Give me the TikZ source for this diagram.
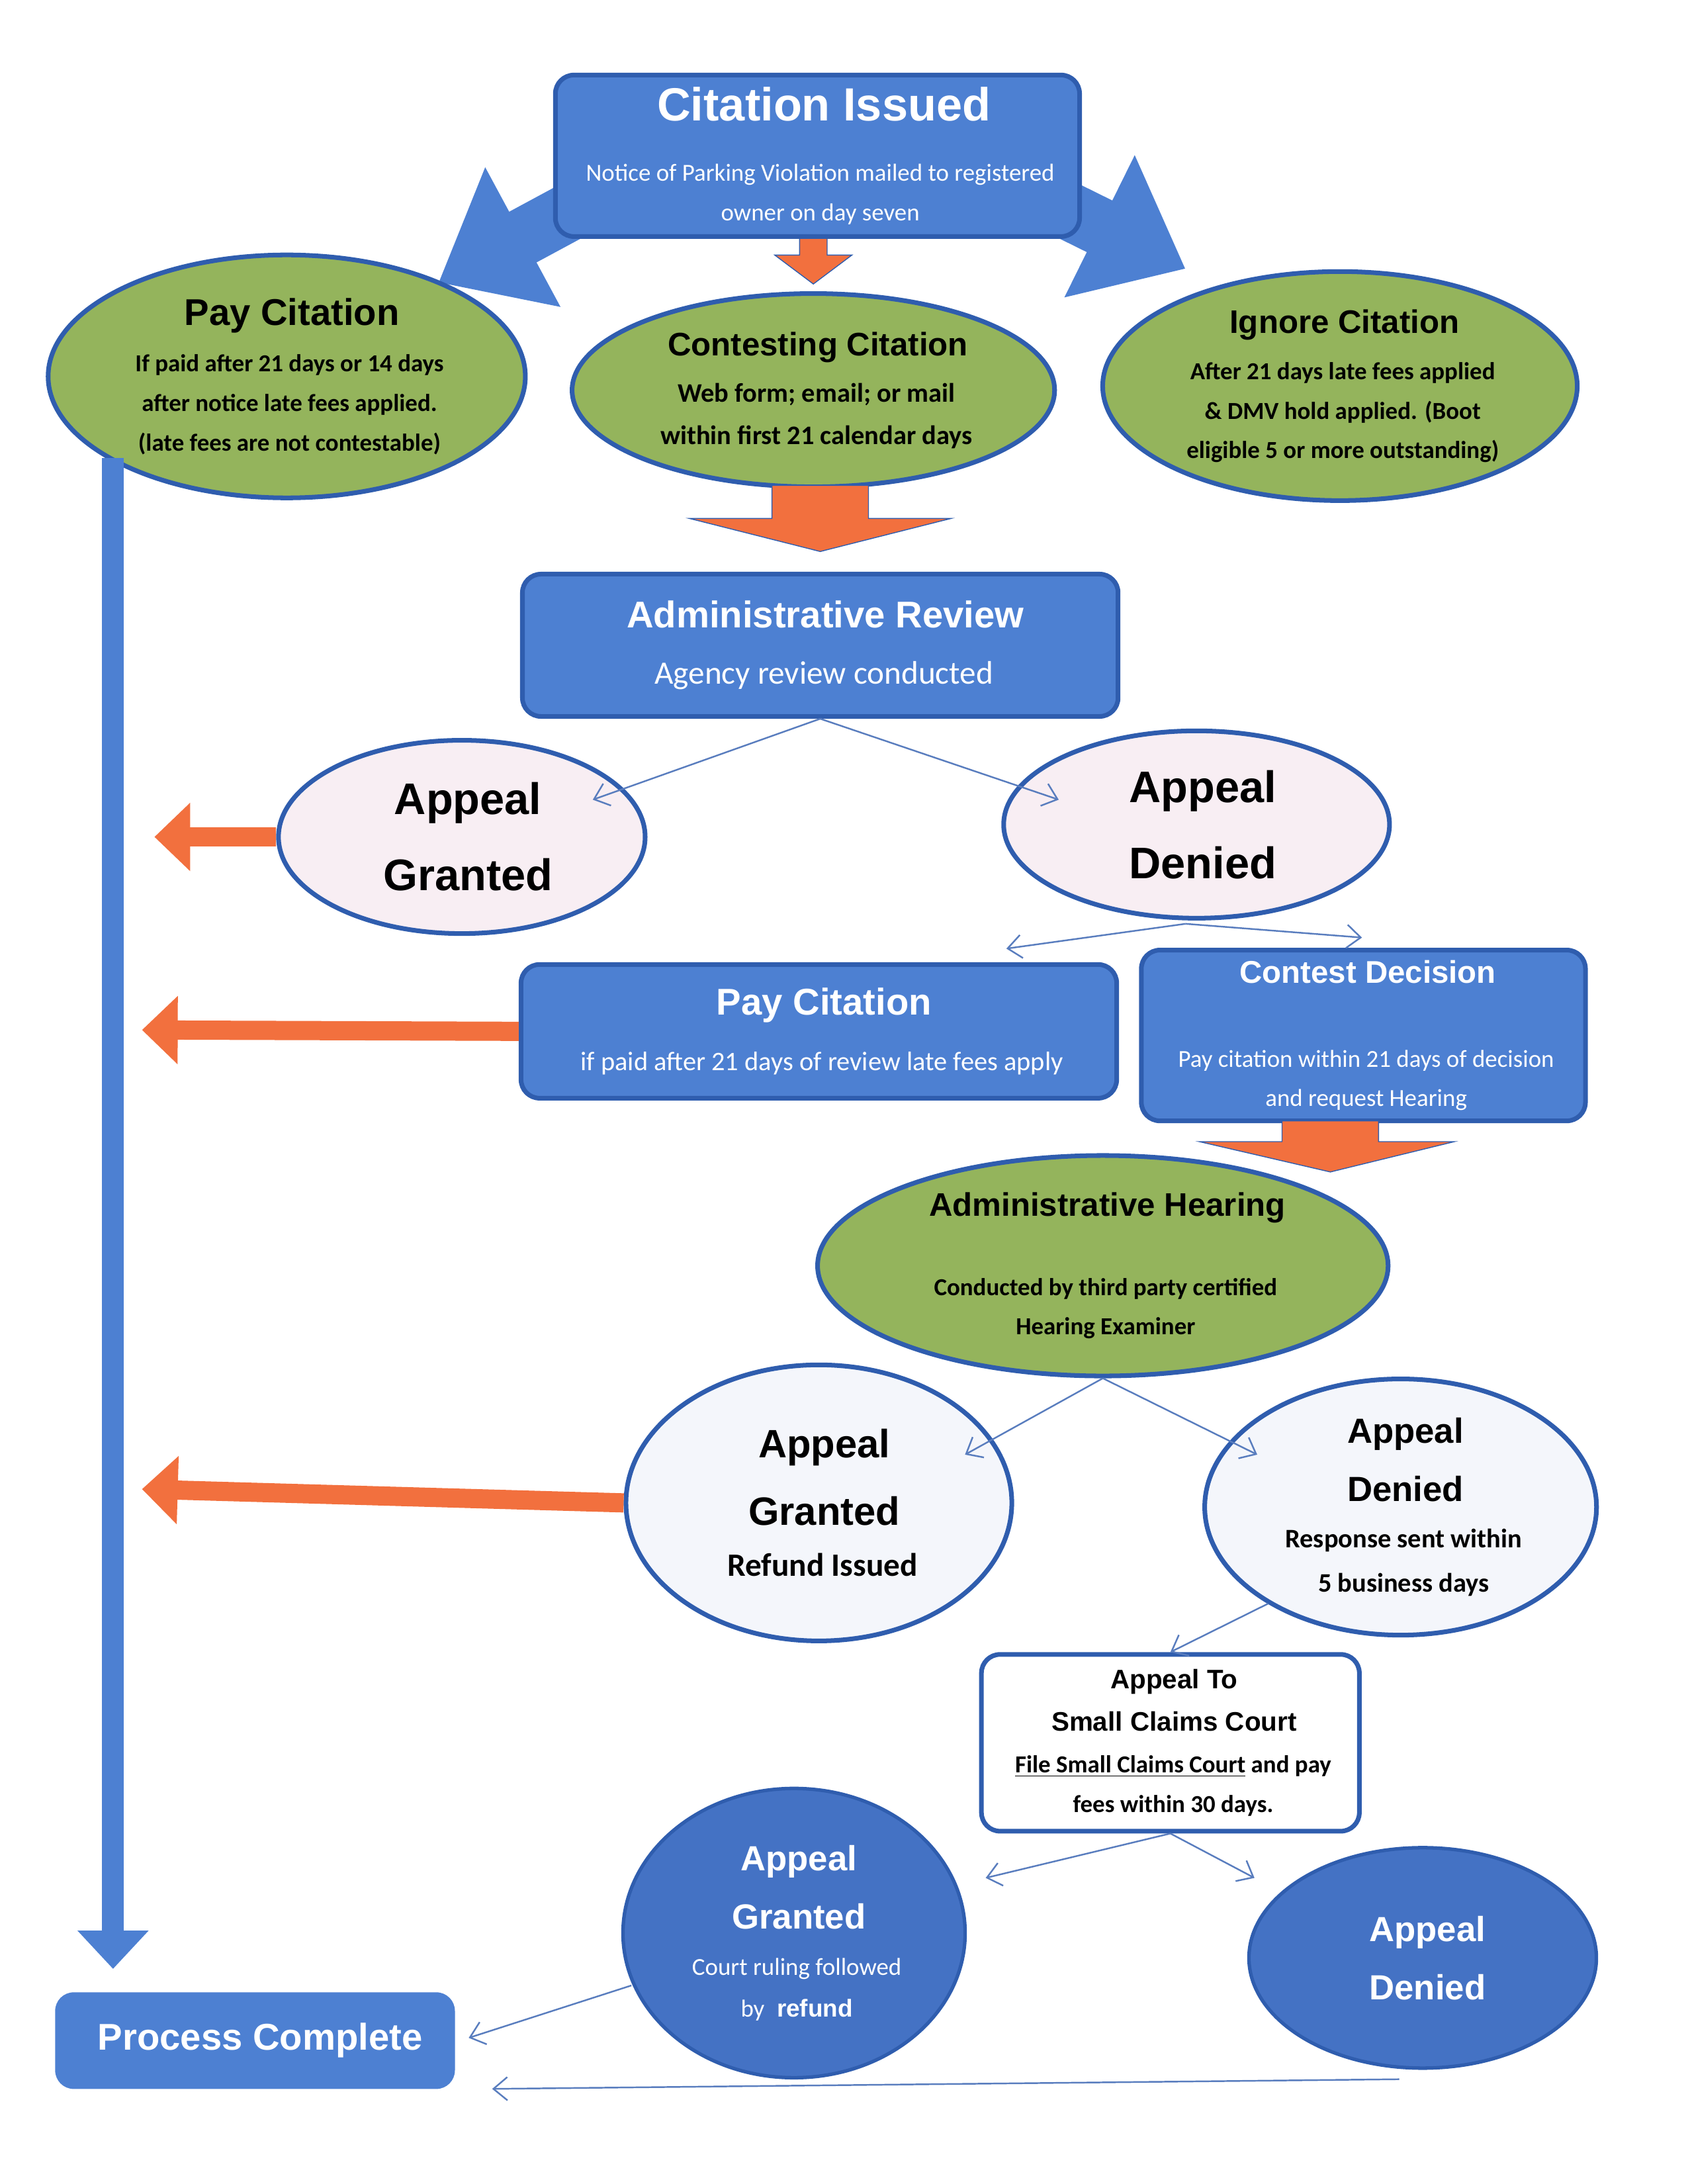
\documentclass[tikz,border=0pt]{standalone}
\usepackage{fontspec}
\setmainfont{Carlito}
\newfontfamily\headfont{Liberation Sans}
\usetikzlibrary{shapes.geometric,arrows.meta,positioning}
\definecolor{boxblue}{HTML}{4D80D2}
\definecolor{lineblue}{HTML}{2F5DAE}
\definecolor{ovgreen}{HTML}{94B45C}
\definecolor{arrorange}{HTML}{F2703E}
\definecolor{paleink}{HTML}{F8EEF3}
\definecolor{palewhite}{HTML}{F4F6FB}
\definecolor{courtblue}{HTML}{4472C4}
\newcommand\hfs[1]{\headfont\bfseries\fontsize{#1}{#1}\selectfont}
\newcommand\bfs[1]{\normalfont\bfseries\fontsize{#1}{#1}\selectfont}
\newcommand\nfs[1]{\normalfont\fontsize{#1}{#1}\selectfont}
\tikzset{
  bluebox/.style={rectangle,rounded corners=8pt,draw=lineblue,line width=2pt,fill=boxblue,text=white,align=center,inner sep=0pt},
  greenov/.style={ellipse,draw=lineblue,line width=2pt,fill=ovgreen,align=center,inner sep=0pt},
  paleov/.style={ellipse,draw=lineblue,line width=2pt,fill=paleink,align=center,inner sep=0pt},
  courtov/.style={ellipse,draw=lineblue,line width=1.5pt,fill=courtblue,text=white,align=center,inner sep=0pt},
  thin/.style={draw=lineblue!80,line width=0.7pt,-{Straight Barb[length=6pt,width=10pt]}},
  fatarrow/.style={draw=arrorange,line width=0.29cm,-{Triangle[length=0.54cm,width=1cm]}},
}
\begin{document}
\begin{tikzpicture}[x=0.02083cm,y=-0.02083cm]
\useasboundingbox (0,0) rectangle (1224,1584);
% big arrows out of the first box
\draw[boxblue,line width=0.87cm,-{Triangle[length=1.45cm,width=2.3cm]}] (420,150) -- (318,205);
\draw[boxblue,line width=0.87cm,-{Triangle[length=1.45cm,width=2.3cm]}] (765,148) -- (860,195);
\fill[arrorange,draw=lineblue] (580,172) -- (600,172) -- (600,185) -- (618,185) -- (590,206) -- (562,185) -- (580,185) -- cycle;
% top row
\node[bluebox,minimum width=7.92cm,minimum height=2.44cm] (issued) at (593,113)
  {\hfs{20} Citation Issued\\[14pt]\nfs{10.5} Notice of Parking Violation mailed to registered\\[5pt]\nfs{10.5} owner on day seven};
\node[greenov,minimum width=7.21cm,minimum height=3.67cm] (paycit) at (208,273)
  {\hfs{16} Pay Citation\\[8pt]\bfs{10.5} If paid after 21 days or 14 days\\[5pt]\bfs{10.5} after notice late fees applied.\\[5pt]\bfs{10.5} (late fees are not contestable)};
\node[greenov,minimum width=7.29cm,minimum height=2.92cm] (contest) at (590,283)
  {\hfs{14} Contesting Citation\\[8pt]\bfs{11.5} Web form; email; or mail\\[6pt]\bfs{11.5} within first 21 calendar days};
\node[greenov,minimum width=7.17cm,minimum height=3.46cm] (ignore) at (972,280)
  {\hfs{14} Ignore Citation\\[8pt]\bfs{10.5} After 21 days late fees applied\\[5pt]\bfs{10.5} \& DMV hold applied. (Boot\\[5pt]\bfs{10.5} eligible 5 or more outstanding)};
\fill[arrorange,draw=lineblue] (560,352) -- (630,352) -- (630,376) -- (690,376) -- (595,400) -- (500,376) -- (560,376) -- cycle;
% review
\node[bluebox,minimum width=9cm,minimum height=2.15cm] (review) at (595,468)
  {\hfs{16} Administrative Review\\[12pt]\nfs{14} Agency review conducted};
\node[paleov,minimum width=5.54cm,minimum height=2.92cm] (grant1) at (335,607) {\hfs{19} Appeal\\[14pt]\hfs{19} Granted};
\node[paleov,minimum width=5.83cm,minimum height=2.83cm] (deny1) at (868,598) {\hfs{19} Appeal\\[14pt]\hfs{19} Denied};
\coordinate (g1end) at (430,580);
\coordinate (d1end) at (768,580);
\draw[thin] (review.south) -- (g1end);
\draw[thin] (review.south) -- (d1end);
\coordinate (g1tip) at (112,607);
\draw[fatarrow] (grant1.west) -- (g1tip);
% second row
\node[bluebox,minimum width=9cm,minimum height=2.02cm] (paycit2) at (594,748)
  {\hfs{16} Pay Citation\\[12pt]\nfs{11.5} if paid after 21 days of review late fees apply};
\node[bluebox,minimum width=6.71cm,minimum height=2.58cm] (decide) at (989,751)
  {\hfs{13.5} Contest Decision\\[24pt]\nfs{10.5} Pay citation within 21 days of decision\\[5pt]\nfs{10.5} and request Hearing};
\coordinate (d1foot) at (860,670);
\coordinate (d1a) at (730,688);
\coordinate (d1b) at (988,680);
\draw[thin] (d1foot) -- (d1a);
\draw[thin] (d1foot) -- (d1b);
\coordinate (p2tip) at (103,747);
\draw[fatarrow] (paycit2.west) -- (p2tip);
\fill[arrorange,draw=lineblue] (930,813) -- (1000,813) -- (1000,828) -- (1055,828) -- (965,850) -- (870,828) -- (930,828) -- cycle;
% hearing
\node[greenov,minimum width=8.62cm,minimum height=3.33cm] (hearing) at (800,918)
  {\hfs{14} Administrative Hearing\\[22pt]\bfs{10.5} Conducted by third party certified\\[5pt]\bfs{10.5} Hearing Examiner};
\node[paleov,fill=palewhite,minimum width=5.83cm,minimum height=4.17cm] (grant2) at (594,1090)
  {\hfs{17} Appeal\\[12pt]\hfs{17} Granted\\[10pt]\bfs{14} Refund Issued};
\node[paleov,fill=palewhite,minimum width=5.92cm,minimum height=3.87cm] (deny2) at (1016,1093)
  {\hfs{15} Appeal\\[10pt]\hfs{15} Denied\\[8pt]\bfs{11.5} Response sent within\\[7pt]\bfs{11.5} 5 business days};
\coordinate (g2end) at (700,1055);
\coordinate (d2end) at (912,1055);
\draw[thin] (hearing.south) -- (g2end);
\draw[thin] (hearing.south) -- (d2end);
\coordinate (g2tip) at (103,1080);
\draw[fatarrow] (grant2.west) -- (g2tip);
% small claims
\node[rectangle,rounded corners=8pt,draw=lineblue,line width=2pt,fill=white,align=center,
  minimum width=5.71cm,minimum height=2.67cm,inner sep=0pt] (claims) at (849,1264)
  {\hfs{11.5} Appeal To\\[6pt]\hfs{11.5} Small Claims Court\\[6pt]\bfs{10.5} \underline{File Small Claims Court} and pay\\[5pt]\bfs{10.5} fees within 30 days.};
\coordinate (d2foot) at (920,1163);
\draw[thin] (d2foot) -- (claims.north);
\node[courtov,minimum width=5.17cm,minimum height=4.37cm] (grant3) at (576,1402)
  {\hfs{15} Appeal\\[10pt]\hfs{15} Granted\\[8pt]\nfs{10.5} Court ruling followed\\[6pt]\nfs{10.5} by \hfs{10.5} refund};
\node[courtov,minimum width=5.25cm,minimum height=3.33cm] (deny3) at (1032,1420)
  {\hfs{15} Appeal\\[10pt]\hfs{15} Denied};
\coordinate (c3a) at (715,1362);
\coordinate (c3b) at (910,1362);
\draw[thin] (claims.south) -- (c3a);
\draw[thin] (claims.south) -- (c3b);
% end
\node[bluebox,draw=none,minimum width=6.04cm,minimum height=1.46cm] (done) at (185,1480)
  {\hfs{16} Process Complete};
\coordinate (paydown) at (82,332);
\coordinate (paytip) at (82,1428);
\draw[boxblue,line width=0.33cm,-{Triangle[length=0.58cm,width=1.04cm]}] (paydown) -- (paytip);
\coordinate (g3foot) at (458,1440);
\coordinate (g3end) at (340,1478);
\draw[thin] (g3foot) -- (g3end);
\coordinate (d3foot) at (1015,1508);
\coordinate (d3end) at (357,1515);
\draw[thin] (d3foot) -- (d3end);
\end{tikzpicture}
\end{document}
